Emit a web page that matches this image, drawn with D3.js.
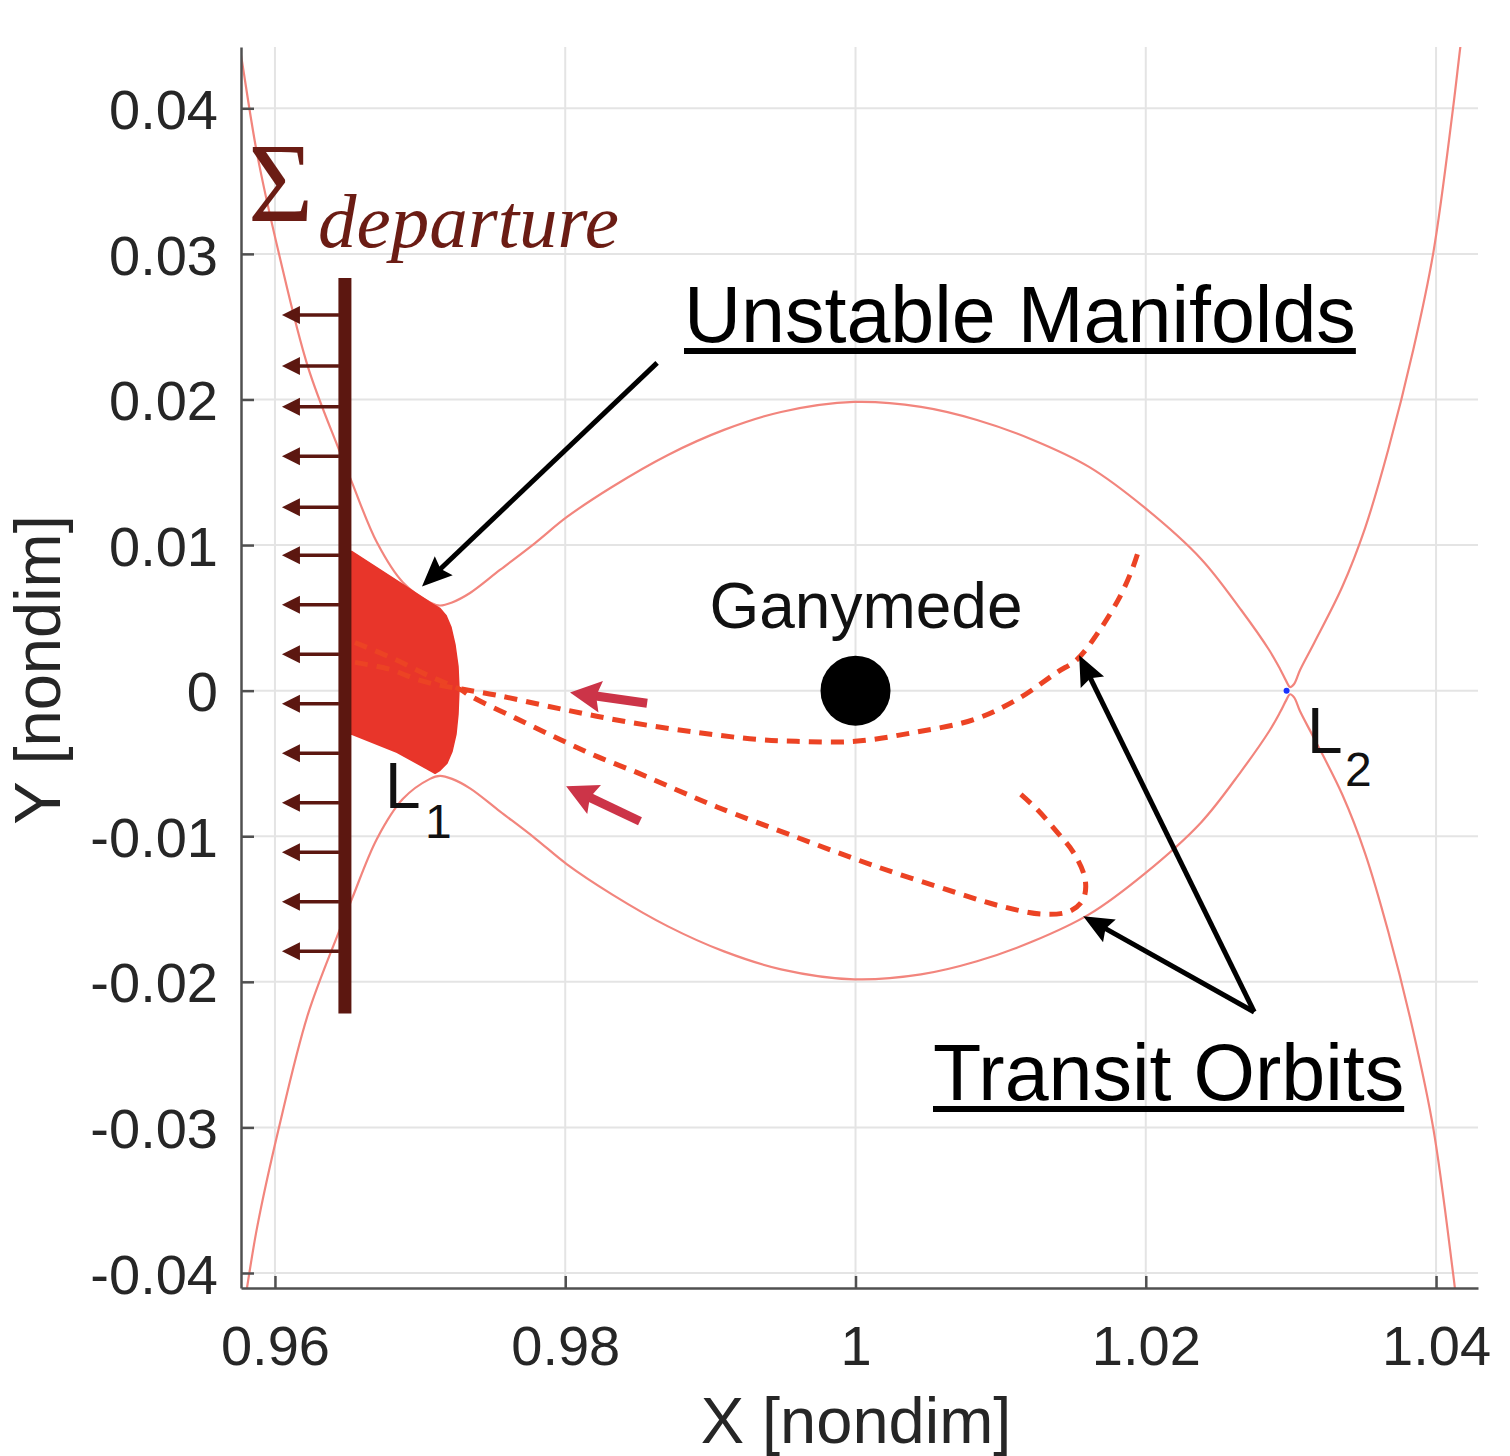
<!DOCTYPE html>
<html>
<head>
<meta charset="utf-8">
<script src="https://cdn.jsdelivr.net/npm/d3@7/dist/d3.min.js"></script>
<style>
  html, body { margin: 0; padding: 0; background: #fff; }
  svg { display: block; }
</style>
</head>
<body>
<svg id="chart" width="1510" height="1456"></svg>
<script>
// ---------------- DATA ----------------
const xTicks = [0.96, 0.98, 1, 1.02, 1.04];
const xTickLabels = ["0.96", "0.98", "1", "1.02", "1.04"];
const yTicks = [-0.04, -0.03, -0.02, -0.01, 0, 0.01, 0.02, 0.03, 0.04];
const yTickLabels = ["-0.04", "-0.03", "-0.02", "-0.01", "0", "0.01", "0.02", "0.03", "0.04"];

// Zero-velocity curve, upper branch
const zvcUpperX = [0.95724, 0.95766, 0.95876, 0.96028, 0.96227, 0.96441, 0.96531, 0.96703, 0.96882, 0.97068,
  0.97137, 0.97220, 0.97344, 0.97550, 0.97792, 0.98012, 0.98322, 0.98708, 0.99094, 0.99487,
  0.99990, 1.00451, 1.00837, 1.01223, 1.01609, 1.01995, 1.02381, 1.02657, 1.02850, 1.02925,
  1.02967, 1.02994, 1.03022, 1.03063, 1.03160, 1.03353, 1.03511, 1.03670, 1.03843, 1.03981,
  1.04118, 1.04167, 1.04201];
const zvcUpperY = [0.04604, 0.04364, 0.03692, 0.02999, 0.02224, 0.01655, 0.01429, 0.01017, 0.00743, 0.00606,
  0.00585, 0.00606, 0.00671, 0.00829, 0.01014, 0.01193, 0.01399, 0.01619, 0.01791, 0.01914,
  0.01983, 0.01949, 0.01859, 0.01722, 0.01537, 0.01255, 0.00905, 0.00554, 0.00279, 0.00149,
  0.00067, 0.00025, 0.00046, 0.00142, 0.00328, 0.00712, 0.01117, 0.01653, 0.02341, 0.03007,
  0.04008, 0.04419, 0.04673];
// Zero-velocity curve, lower branch
const zvcLowerX = [0.95724, 0.95766, 0.95876, 0.96028, 0.96227, 0.96441, 0.96531, 0.96703, 0.96882, 0.97068,
  0.97137, 0.97220, 0.97344, 0.97550, 0.97792, 0.98012, 0.98322, 0.98708, 0.99094, 0.99487,
  0.99990, 1.00451, 1.00837, 1.01223, 1.01609, 1.01995, 1.02381, 1.02657, 1.02850, 1.02925,
  1.02967, 1.02994, 1.03022, 1.03063, 1.03160, 1.03353, 1.03511, 1.03670, 1.03843, 1.03981,
  1.04118, 1.04167, 1.04201];
const zvcLowerY = [-0.04604, -0.04364, -0.03692, -0.02999, -0.02224, -0.01655, -0.01429, -0.01017, -0.00743, -0.00606,
  -0.00585, -0.00606, -0.00671, -0.00829, -0.01014, -0.01193, -0.01399, -0.01619, -0.01791, -0.01914,
  -0.01983, -0.01949, -0.01859, -0.01722, -0.01537, -0.01255, -0.00905, -0.00554, -0.00279, -0.00149,
  -0.00067, -0.00025, -0.00046, -0.00142, -0.00328, -0.00712, -0.01117, -0.01653, -0.02341, -0.03007,
  -0.04008, -0.04419, -0.04673];

// Unstable manifold tube (filled region)
const tubeX = [0.96500, 0.96531, 0.96882, 0.97089, 0.97137, 0.97178, 0.97213, 0.97240, 0.97261, 0.97268,
  0.97261, 0.97247, 0.97220, 0.97185, 0.97137, 0.97103, 0.96841, 0.96531, 0.96500];
const tubeY = [0.00955, 0.00955, 0.00729, 0.00592, 0.00565, 0.00517, 0.00435, 0.00318, 0.00167, 0.00009,
  -0.00163, -0.00300, -0.00417, -0.00499, -0.00547, -0.00568, -0.00423, -0.00299, -0.00299];

// Transit orbit A (upper, ends near (1.019, 0.0095))
const orbitAX = [0.96551, 0.96793, 0.96979, 0.97137, 0.97296, 0.97530, 0.97985, 0.98447, 0.98908, 0.99322,
  0.99591, 0.99997, 1.00404, 1.00817, 1.01114, 1.01389, 1.01527, 1.01686, 1.01823, 1.01906, 1.01948];
const orbitAY = [0.00194, 0.00146, 0.00077, 0.00036, 0.00009, -0.00032, -0.00129, -0.00218, -0.00287, -0.00335,
  -0.00348, -0.00348, -0.00287, -0.00198, -0.00060, 0.00126, 0.00215, 0.00421, 0.00648, 0.00833, 0.00955];
// Transit orbit B (lower, hooks back near (1.0157, -0.0143))
const orbitBX = [0.96551, 0.96827, 0.97068, 0.97275, 0.97358, 0.97654, 0.97957, 0.98226, 0.98501, 0.98770,
  0.99046, 0.99590, 1.00135, 1.00680, 1.00997, 1.01293, 1.01479, 1.01569, 1.01582, 1.01500, 1.01389,
  1.01251, 1.01114];
const orbitBY = [0.00331, 0.00215, 0.00098, 0.00009, -0.00043, -0.00187, -0.00332, -0.00455, -0.00565, -0.00682,
  -0.00799, -0.01005, -0.01205, -0.01383, -0.01479, -0.01535, -0.01514, -0.01432, -0.01294, -0.01109, -0.00972,
  -0.00815, -0.00691];

// Departure section Sigma
const sigmaX = [0.96482];
const sigmaYRange = [-0.02218, 0.02835];
const sigmaArrowY = [0.0258, 0.0223, 0.0195, 0.0161, 0.0126, 0.0093, 0.0059, 0.0025,
  -0.0009, -0.0043, -0.0077, -0.0111, -0.0145, -0.0179];
const sigmaArrowTipX = [0.96048];

// Bodies / points
const ganymedeXY = [1.0, 0.0];
const l2XY = [1.0297, 0.0];

// ---------------- LAYOUT ----------------
const svg = d3.select("#chart");
const P = { left: 241, right: 1478, top: 47, bottom: 1288 };
const x = d3.scaleLinear().domain([0.95766, 1.04289]).range([P.left, P.right]);
const y = d3.scaleLinear().domain([-0.04103, 0.04421]).range([P.bottom, P.top]);

const SANS = "'Liberation Sans', Arial, Helvetica, sans-serif";
const SERIF = "'Liberation Serif', 'Times New Roman', Times, serif";
const C = {
  grid: "#e4e4e4", axis: "#505050", tick: "#262626",
  zvc: "#f2857d", tube: "#e8352a", orbit: "#ec4324",
  sigma: "#5c1710", sigmaText: "#6b1c14", redArrow: "#cc3448", black: "#000"
};

svg.append("defs").append("clipPath").attr("id", "plotclip")
  .append("rect").attr("x", P.left).attr("y", P.top)
  .attr("width", P.right - P.left).attr("height", P.bottom - P.top);

// grid
const grid = svg.append("g");
grid.selectAll("line.gx").data(xTicks).enter().append("line")
  .attr("x1", d => x(d)).attr("x2", d => x(d)).attr("y1", P.top).attr("y2", P.bottom)
  .attr("stroke", C.grid).attr("stroke-width", 2);
grid.selectAll("line.gy").data(yTicks).enter().append("line")
  .attr("y1", d => y(d)).attr("y2", d => y(d)).attr("x1", P.left).attr("x2", P.right)
  .attr("stroke", C.grid).attr("stroke-width", 2);

const plot = svg.append("g").attr("clip-path", "url(#plotclip)");
const zip = (xs, ys) => xs.map((v, i) => [v, ys[i]]);
const line = d3.line().x(d => x(d[0])).y(d => y(d[1])).curve(d3.curveCatmullRom.alpha(0.5));

// zero-velocity curves
[zip(zvcUpperX, zvcUpperY), zip(zvcLowerX, zvcLowerY)].forEach(pts => {
  plot.append("path").attr("d", line(pts)).attr("fill", "none")
    .attr("stroke", C.zvc).attr("stroke-width", 2.2);
});

// tube fill
plot.append("path")
  .attr("d", d3.line().x(d => x(d[0])).y(d => y(d[1])).curve(d3.curveLinearClosed)(zip(tubeX, tubeY)))
  .attr("fill", C.tube).attr("stroke", C.tube).attr("stroke-width", 1.5).attr("stroke-linejoin", "round");

// transit orbits
[zip(orbitAX, orbitAY), zip(orbitBX, orbitBY)].forEach(pts => {
  plot.append("path").attr("d", line(pts)).attr("fill", "none")
    .attr("stroke", C.orbit).attr("stroke-width", 5).attr("stroke-dasharray", "13,9");
});

// L2 point
plot.append("circle").attr("cx", x(l2XY[0])).attr("cy", y(l2XY[1])).attr("r", 3).attr("fill", "#1a33ff");

// Ganymede
plot.append("circle").attr("cx", x(ganymedeXY[0])).attr("cy", y(ganymedeXY[1])).attr("r", 35).attr("fill", "#000");

// arrow helper (pixel coords)
function drawArrow(g, tail, tip, o) {
  const [x0, y0] = tail, [x1, y1] = tip;
  const dx = x1 - x0, dy = y1 - y0, L = Math.hypot(dx, dy), ux = dx / L, uy = dy / L;
  const bx = x1 - ux * o.head, by = y1 - uy * o.head;
  const nx = x1 - ux * o.head * (o.notch || 1), ny = y1 - uy * o.head * (o.notch || 1);
  g.append("line").attr("x1", x0).attr("y1", y0).attr("x2", nx + ux * 2).attr("y2", ny + uy * 2)
    .attr("stroke", o.color).attr("stroke-width", o.width);
  g.append("path")
    .attr("d", `M${x1},${y1}L${bx - uy * o.half},${by + ux * o.half}L${nx},${ny}L${bx + uy * o.half},${by - ux * o.half}Z`)
    .attr("fill", o.color);
}

// Sigma bar + arrows
const sig = svg.append("g");
sigmaArrowY.forEach(v => {
  drawArrow(sig, [x(sigmaX[0]) - 6, y(v)], [x(sigmaArrowTipX[0]), y(v)],
    { color: C.sigma, width: 3.5, head: 18, half: 9, notch: 1 });
});
sig.append("line").attr("x1", x(sigmaX[0])).attr("x2", x(sigmaX[0]))
  .attr("y1", y(sigmaYRange[1])).attr("y2", y(sigmaYRange[0]))
  .attr("stroke", C.sigma).attr("stroke-width", 13);

// annotation arrows
const ann = svg.append("g");
drawArrow(ann, [x(0.98633), y(0.02251)], [x(0.97013), y(0.00716)], { color: C.black, width: 5, head: 30, half: 13, notch: 0.85 });
drawArrow(ann, [x(1.02747), y(-0.02207)], [x(1.01541), y(0.00243)], { color: C.black, width: 5, head: 30, half: 13, notch: 0.85 });
drawArrow(ann, [x(1.02747), y(-0.02207)], [x(1.01569), y(-0.01549)], { color: C.black, width: 5, head: 30, half: 13, notch: 0.85 });
drawArrow(ann, [x(0.98564), y(-0.00087)], [x(0.98033), y(-0.00012)], { color: C.redArrow, width: 9, head: 31, half: 16, notch: 0.85 });
drawArrow(ann, [x(0.98515), y(-0.00897)], [x(0.98006), y(-0.00656)], { color: C.redArrow, width: 9, head: 31, half: 16, notch: 0.85 });

// axes
const yAxis = d3.axisLeft(y).tickValues(yTicks).tickFormat((d, i) => yTickLabels[i])
  .tickSizeInner(-13).tickSizeOuter(0).tickPadding(23);
const gy = svg.append("g").attr("transform", `translate(${P.left},0)`).call(yAxis);
const xAxis = d3.axisBottom(x).tickValues(xTicks).tickFormat((d, i) => xTickLabels[i])
  .tickSizeInner(-12).tickSizeOuter(0).tickPadding(37);
const gx = svg.append("g").attr("transform", `translate(0,${P.bottom})`).call(xAxis);
[gx, gy].forEach(g => {
  g.select(".domain").attr("stroke", C.axis).attr("stroke-width", 2.5);
  g.selectAll(".tick line").attr("stroke", C.axis).attr("stroke-width", 2.5);
  g.selectAll(".tick text").attr("fill", C.tick).style("font-family", SANS).style("font-size", "56px");
});
gy.selectAll(".tick text").attr("dy", "0.36em");

// axis labels
svg.append("text").attr("x", 856).attr("y", 1443).attr("text-anchor", "middle")
  .style("font-family", SANS).style("font-size", "65px").attr("fill", C.tick).text("X [nondim]");
svg.append("text").attr("transform", "translate(60,670) rotate(-90)").attr("text-anchor", "middle")
  .style("font-family", SANS).style("font-size", "65px").attr("fill", C.tick).text("Y [nondim]");

// text annotations
const T = svg.append("g");
function underlined(txt, xx, yy, size, ulY) {
  const t = T.append("text").attr("x", xx).attr("y", yy).style("font-family", SANS)
    .style("font-size", size + "px").attr("fill", "#000").text(txt);
  const w = t.node().getComputedTextLength();
  T.append("line").attr("x1", xx).attr("x2", xx + w).attr("y1", ulY).attr("y2", ulY)
    .attr("stroke", "#000").attr("stroke-width", 6);
}
underlined("Unstable Manifolds", 684, 342, 79, 351);
underlined("Transit Orbits", 933, 1100, 79, 1109);

T.append("text").attr("x", 866).attr("y", 628).attr("text-anchor", "middle")
  .style("font-family", SANS).style("font-size", "64px").attr("fill", "#111").text("Ganymede");

T.append("text").attr("x", 385).attr("y", 808).style("font-family", SANS).style("font-size", "64px").attr("fill", "#111").text("L");
T.append("text").attr("x", 425).attr("y", 838).style("font-family", SANS).style("font-size", "48px").attr("fill", "#111").text("1");
T.append("text").attr("x", 1307).attr("y", 753).style("font-family", SANS).style("font-size", "64px").attr("fill", "#111").text("L");
T.append("text").attr("x", 1345).attr("y", 786).style("font-family", SANS).style("font-size", "48px").attr("fill", "#111").text("2");

T.append("text").attr("x", 248).attr("y", 221).style("font-family", SERIF).style("font-size", "112px")
  .attr("fill", C.sigmaText).text("Σ");
T.append("text").attr("x", 318).attr("y", 247).style("font-family", SERIF).style("font-style", "italic")
  .style("font-size", "77px").attr("fill", C.sigmaText).text("departure");
</script>
</body>
</html>
